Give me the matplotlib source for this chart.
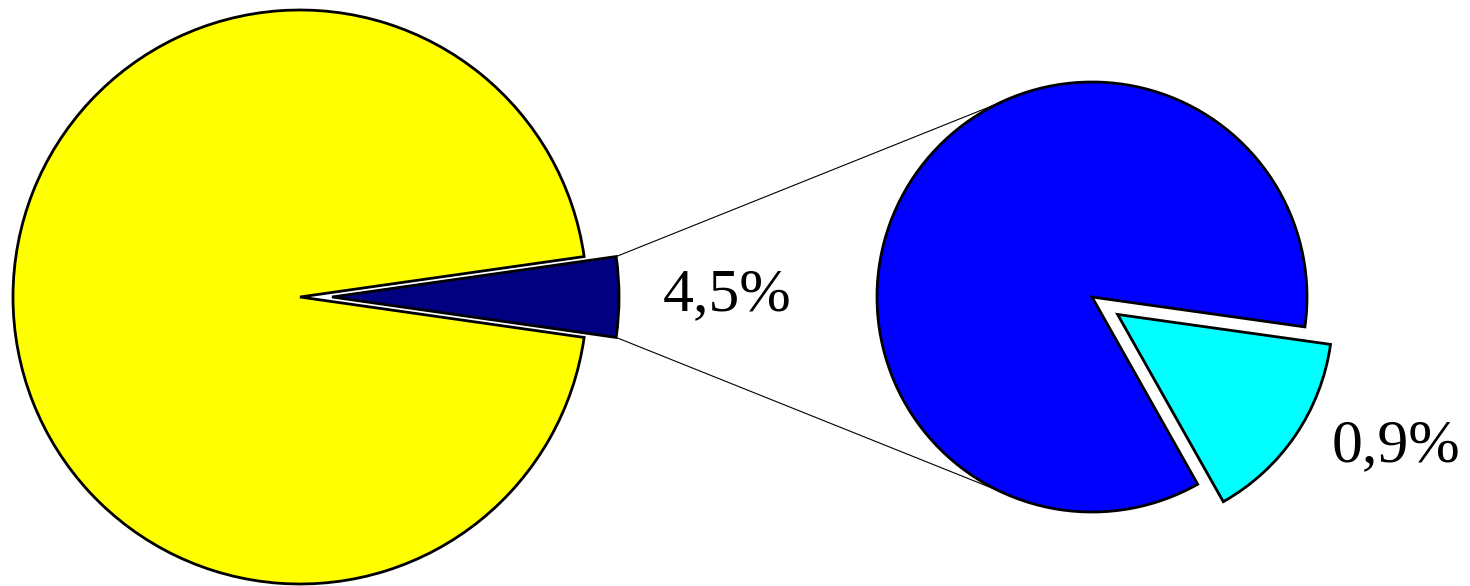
import numpy as np
import matplotlib.pyplot as plt

# main pie: rest vs. the 4,5% slice that is split out
main_shares = [4.5, 95.5]
main_colors = ['#000080', '#FFFF00']
main_label = '4,5%'

# second pie: how the 4,5% slice splits (shares as drawn)
sub_shares = [14.6, 85.4]
sub_colors = ['#00FFFF', '#0000FF']
sub_label = '0,9%'

W, H = 1470, 586
fig = plt.figure(figsize=(W / 100, H / 100), dpi=100)
ax = fig.add_axes([0, 0, 1, 1])

wp = dict(edgecolor='black', linewidth=2.0)

# left pie (explode is in data units here since radius != 1)
main_wedges, _ = ax.pie(main_shares, colors=main_colors, center=(300, 289), radius=287,
                        startangle=-main_shares[0] * 3.6 / 2, explode=[32, 0],
                        wedgeprops=wp, frame=True)

# right pie
sub_start = -8 - sub_shares[0] * 3.6
sub_wedges, _ = ax.pie(sub_shares, colors=sub_colors, center=(1092, 289), radius=215,
                       startangle=sub_start, explode=[31, 0],
                       wedgeprops=wp, frame=True)

# connector lines from the split-out slice to the second pie
w = main_wedges[0]
cx, cy = w.center
big = sub_wedges[1]
bx, by = big.center
for th, th2 in [(w.theta2, 115.5), (w.theta1, -115.5)]:
    x0 = cx + w.r * np.cos(np.radians(th))
    y0 = cy + w.r * np.sin(np.radians(th))
    x1 = bx + big.r * np.cos(np.radians(th2))
    y1 = by + big.r * np.sin(np.radians(th2))
    ax.plot([x0, x1], [y0, y1], color='black', linewidth=0.8, zorder=0)

ax.text(727, 291, main_label, fontsize=44.5, family='Liberation Serif',
        ha='center', va='center')
ax.text(1396, 140, sub_label, fontsize=44.5, family='Liberation Serif',
        ha='center', va='center')

ax.set_xlim(0, W)
ax.set_ylim(0, H)
ax.set_aspect('equal')
ax.axis('off')

fig.savefig('out.png', dpi=100)
